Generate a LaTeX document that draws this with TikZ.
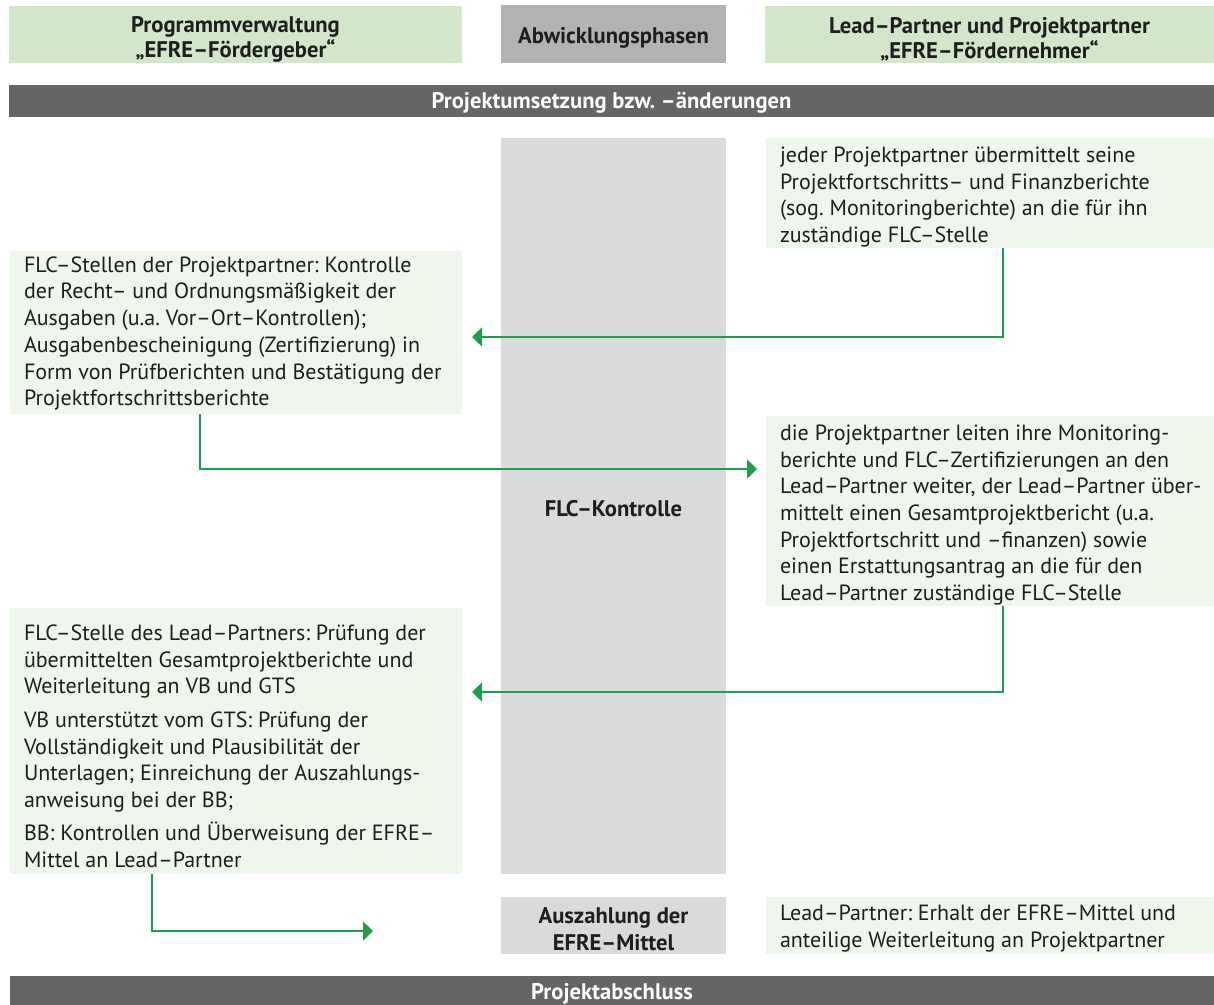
\documentclass[tikz,border=0pt]{standalone}
\usepackage{fontspec}
\setmainfont{PT Sans}
\usetikzlibrary{arrows.meta}
\definecolor{hdrgreen}{HTML}{D2E7CA}
\definecolor{boxgreen}{HTML}{EFF6EC}
\definecolor{hdrgray}{HTML}{B2B3B5}
\definecolor{colgray}{HTML}{D9DADC}
\definecolor{bargray}{HTML}{646567}
\definecolor{arrgreen}{HTML}{1E9E4A}
\definecolor{txt}{HTML}{1E1E1E}
\frenchspacing
\begin{document}
\begin{tikzpicture}[x=1pt,y=-1pt,
  boldtext/.style={inner sep=0pt, align=center, text=txt,
    font=\fontsize{22.6}{25}\selectfont\bfseries\frenchspacing},
  hdr/.style={fill=hdrgreen, inner sep=0pt},
  phase/.style={fill=hdrgray, inner sep=0pt},
  bar/.style={fill=bargray, inner sep=0pt},
  bartext/.style={boldtext, text=white},
  col/.style={fill=colgray, inner sep=0pt},
  pbox/.style={fill=boxgreen, inner sep=0pt},
  ptext/.style={inner sep=0pt, anchor=west, align=left, text=txt,
    font=\fontsize{22}{26.7}\selectfont\frenchspacing},
  conn/.style={draw=arrgreen, line width=1.5pt,
    -{Triangle[length=10pt,width=19pt]}}
]
\useasboundingbox (0,0) rectangle (1214,1004);

% headers
\node[hdr, minimum width=453pt, minimum height=57pt] (hL) at (235.5,34.5) {};
\node[boldtext] (hLt) at (235.5,39) {Programmverwaltung\\„EFRE–Fördergeber“};
\node[phase, minimum width=225pt, minimum height=58pt] (hM) at (613.5,34) {};
\node[boldtext] (hMt) at (613.5,38) {Abwicklungsphasen};
\node[hdr, minimum width=449pt, minimum height=57pt] (hR) at (989.5,34.5) {};
\node[boldtext] (hRt) at (989.5,39) {Lead–Partner und Projektpartner\\„EFRE–Fördernehmer“};
\node[bar, minimum width=1205pt, minimum height=32pt] (bar1) at (611.5,101) {};
\node[bartext] (bar1t) at (611.5,103) {Projektumsetzung bzw. –änderungen};

% central column
\node[col, minimum width=225pt, minimum height=736pt] (col) at (613.5,506) {};
\node[boldtext] (colt) at (613.5,509) {FLC–Kontrolle};
\node[col, minimum width=225pt, minimum height=57pt] (aus) at (613.5,925.5) {};
\node[boldtext, font=\fontsize{22.6}{27}\selectfont\bfseries] (aust) at (613.5,929)
  {Auszahlung der\\EFRE–Mittel};

% boxes
\node[pbox, minimum width=448pt, minimum height=110pt] (r1) at (990,193) {};
\node[ptext] (r1t) at ([xshift=14pt,yshift=-4pt]r1.west)
  {jeder Projektpartner übermittelt seine\\
   Projektfortschritts– und Finanzberichte\\
   (sog. Monitoringberichte) an die für ihn\\
   zuständige FLC–Stelle};
\node[pbox, minimum width=452pt, minimum height=163pt] (l1) at (236,332.5) {};
\node[ptext] (l1t) at ([xshift=14pt,yshift=-1pt]l1.west)
  {FLC–Stellen der Projektpartner: Kontrolle\\
   der Recht– und Ordnungsmäßigkeit der\\
   Ausgaben (u.a. Vor–Ort–Kontrollen);\\
   Ausgabenbescheinigung (Zertifizierung) in\\
   Form von Prüfberichten und Bestätigung der\\
   Projektfortschrittsberichte};
\node[pbox, minimum width=448pt, minimum height=190pt] (r2) at (990,511) {};
\node[ptext] (r2t) at ([xshift=14pt,yshift=-4pt]r2.west)
  {die Projektpartner leiten ihre Monitoring-\\
   berichte und FLC–Zertifizierungen an den\\
   Lead–Partner weiter, der Lead–Partner über-\\
   mittelt einen Gesamtprojektbericht (u.a.\\
   Projektfortschritt und –finanzen) sowie\\
   einen Erstattungsantrag an die für den\\
   Lead–Partner zuständige FLC–Stelle};
\node[pbox, minimum width=452pt, minimum height=266pt] (l2) at (236,741) {};
\node[ptext] (l2t) at ([xshift=14pt,yshift=-5pt]l2.west)
  {FLC–Stelle des Lead–Partners: Prüfung der\\
   übermittelten Gesamtprojektberichte und\\
   Weiterleitung an VB und GTS\\[7pt]
   VB unterstützt vom GTS: Prüfung der\\
   Vollständigkeit und Plausibilität der\\
   Unterlagen; Einreichung der Auszahlungs-\\
   anweisung bei der BB;\\[6pt]
   BB: Kontrollen und Überweisung der EFRE–\\
   Mittel an Lead–Partner};
\node[pbox, minimum width=448pt, minimum height=57pt] (r3) at (990,925.5) {};
\node[ptext] (r3t) at ([xshift=14pt,yshift=-3pt]r3.west)
  {Lead–Partner: Erhalt der EFRE–Mittel und\\
   anteilige Weiterleitung an Projektpartner};

\node[bar, minimum width=1204pt, minimum height=34pt] (bar2) at (612,993) {};
\node[bartext] (bar2t) at (612,994) {Projektabschluss};

% connector end points
\coordinate (t1) at (472,337);
\coordinate (t2) at (757,469);
\coordinate (t3) at (472,692);
\coordinate (t4) at (373,931);

\draw[conn] ([xshift=13pt]r1.south) |- (t1);
\draw[conn] ([xshift=-36pt]l1.south) |- (t2);
\draw[conn] ([xshift=13pt]r2.south) |- (t3);
\draw[conn] ([xshift=-84pt]l2.south) |- (t4);
\end{tikzpicture}
\end{document}
